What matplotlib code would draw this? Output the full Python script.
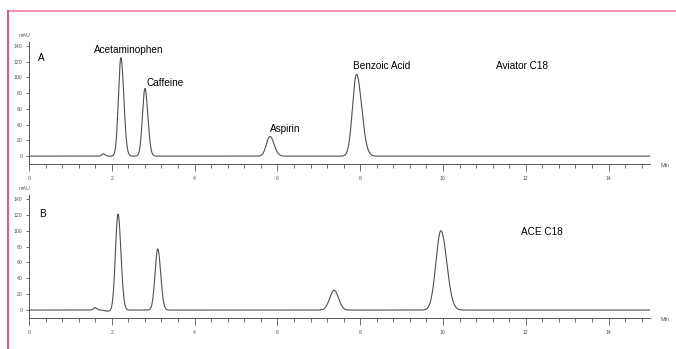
import numpy as np
import matplotlib
matplotlib.use('Agg')
import matplotlib.pyplot as plt
from matplotlib.ticker import MultipleLocator
from matplotlib.lines import Line2D

plt.rcParams['font.family'] = ['Liberation Sans', 'DejaVu Sans']

# Peak tables (retention time min, height mAU, sigma left/right)
names = ['Acetaminophen', 'Caffeine', 'Aspirin', 'Benzoic Acid']

rt_a = [1.79, 2.22, 2.80, 5.82, 7.91]
height_a = [3, 125, 86, 25, 104]
sig_l_a = [0.035, 0.06, 0.06, 0.085, 0.095]
sig_r_a = [0.045, 0.07, 0.07, 0.1, 0.125]

rt_b = [1.59, 1.92, 2.15, 3.11, 7.37, 9.95]
height_b = [3, -1.5, 121, 77, 25, 100]
sig_l_b = [0.035, 0.08, 0.062, 0.065, 0.105, 0.12]
sig_r_b = [0.045, 0.08, 0.07, 0.07, 0.105, 0.14]

column_a = 'Aviator C18'
column_b = 'ACE C18'
y_ticks = [0, 20, 40, 60, 80, 100, 120, 140]
x_ticks = [0, 2, 4, 6, 8, 10, 12, 14]

t = np.linspace(0, 15, 4001)


def trace(rts, hs, sl, sr):
    y = np.zeros_like(t)
    for rt, h, a, b in zip(rts, hs, sl, sr):
        s = np.where(t < rt, a, b)
        y += h * np.exp(-0.5 * ((t - rt) / s) ** 2)
    return y


fig = plt.figure(figsize=(6.76, 3.49), dpi=100)
W, H = 676.0, 349.0

ax_a = fig.add_axes([29 / W, 1 - 164 / H, 621 / W, 122 / H])
ax_b = fig.add_axes([29 / W, 1 - 318 / H, 621 / W, 123 / H])

line_col = '#505050'
for ax, y in [(ax_a, trace(rt_a, height_a, sig_l_a, sig_r_a)),
              (ax_b, trace(rt_b, height_b, sig_l_b, sig_r_b))]:
    ax.plot(t, y, color=line_col, lw=0.8)
    ax.set_xlim(0, 15)
    ax.set_ylim(-10, 145)
    ax.spines['top'].set_visible(False)
    ax.spines['right'].set_visible(False)
    for s in ['left', 'bottom']:
        ax.spines[s].set_color('#555555')
        ax.spines[s].set_linewidth(0.7)
    ax.set_yticks(y_ticks)
    ax.set_xticks(x_ticks)
    ax.xaxis.set_minor_locator(MultipleLocator(0.4))
    ax.tick_params(axis='y', length=2.5, width=0.6, colors='#555555',
                   labelsize=3.7, pad=2)
    ax.tick_params(axis='x', which='major', length=5, width=0.6,
                   colors='#555555', labelsize=3.7, pad=4)
    ax.tick_params(axis='x', which='minor', length=3, width=0.6,
                   colors='#555555')
    ax.text(-0.1, 150, 'mAU', fontsize=3.8, color='#555555', ha='center',
            va='bottom')
    ax.text(15.25, -12, 'Min', fontsize=4, color='#555555', ha='left',
            va='center', clip_on=False)

# labels, panel A
ax_a.text(0.22, 125, 'A', fontsize=7.2, va='center')
ax_a.text(1.57, 135, names[0], fontsize=7.2, va='center')
ax_a.text(2.83, 93, names[1], fontsize=7.2, va='center')
ax_a.text(5.82, 34, names[2], fontsize=7.2, va='center')
ax_a.text(7.83, 114.5, names[3], fontsize=7.2, va='center')
ax_a.text(11.28, 114.5, column_a, fontsize=7.2, va='center')

# labels, panel B
ax_b.text(0.24, 121, 'B', fontsize=7.2, va='center')
ax_b.text(11.88, 98, column_b, fontsize=7.2, va='center')

# pink frame
fig.add_artist(Line2D([8 / W, 1], [1 - 10.7 / H, 1 - 10.7 / H],
                      color='#ef8aa5', lw=1.3, transform=fig.transFigure))
fig.add_artist(Line2D([8 / W, 8 / W], [0, 1 - 10.7 / H],
                      color='#e2456f', lw=1.3, transform=fig.transFigure))

fig.savefig('out.png', dpi=100)
